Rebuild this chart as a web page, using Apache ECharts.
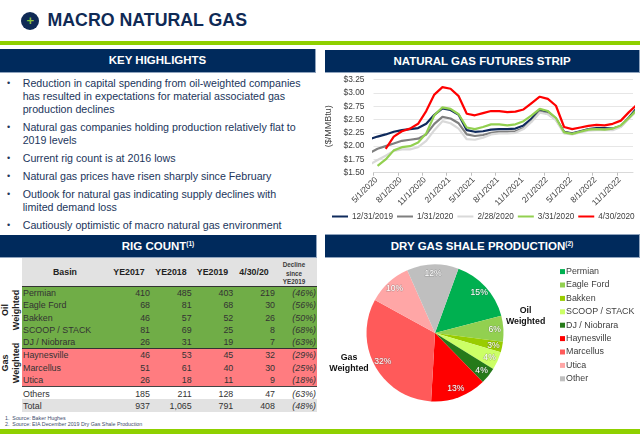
<!DOCTYPE html>
<html><head><meta charset="utf-8">
<script src="https://cdn.jsdelivr.net/npm/echarts@6/dist/echarts.min.js"></script>
<style>
html,body{margin:0;padding:0;background:#fff}
body{width:640px;height:434px;position:relative;overflow:hidden;font-family:"Liberation Sans",Arial,sans-serif;color:#1b2f55}
.abs{position:absolute;white-space:nowrap}
.hdr{position:absolute;background:#002a5c;color:#fff;font-weight:bold;font-size:11.5px;text-align:center;box-sizing:border-box;border-right:1px solid #8fa3bd;border-bottom:1px solid #8fa3bd}
.hdr sup{font-size:6.5px;line-height:0;vertical-align:4px}
.b{position:absolute;left:22.7px;font-size:10.66px;line-height:13px;white-space:nowrap;color:#22365c}
.d{position:absolute;left:7px;font-size:9px;line-height:13px;color:#22365c}
.c{position:absolute;top:0;font-size:8.9px;line-height:12.3px;color:#333;white-space:nowrap}
.side{position:absolute;font-weight:bold;font-size:9px;line-height:11px;color:#222;text-align:center;transform:translate(-50%,-50%) rotate(-90deg);white-space:nowrap}
.w{position:absolute;font-weight:bold;font-size:8.8px;line-height:11px;color:#111;text-align:center;transform:translate(-50%,-50%);white-space:nowrap}
</style></head><body>
<div class="abs" style="left:21.3px;top:11.7px;width:18px;height:18px;border-radius:9px;background:#0f2a55"></div>
<div class="abs" style="left:21.3px;top:11.7px;width:18px;line-height:18px;text-align:center;color:#8cc63f;font-size:13px;font-weight:bold">+</div>
<div class="abs" style="left:47.5px;top:9px;font-size:17.75px;line-height:23px;font-weight:bold;color:#0f2a55">MACRO NATURAL GAS</div>
<div class="abs" style="left:0;top:41px;width:640px;height:4px;background:#8fd000"></div>
<div class="hdr" style="left:0;top:49px;width:316px;height:24px;line-height:23px">KEY HIGHLIGHTS</div>
<div class="hdr" style="left:325px;top:50px;width:315px;height:23px;line-height:22px">NATURAL GAS FUTURES STRIP</div>
<div class="hdr" style="left:0;top:235px;width:317px;height:23px;line-height:22px">RIG COUNT<sup>(1)</sup></div>
<div class="hdr" style="left:325px;top:235px;width:315px;height:23px;line-height:22px">DRY GAS SHALE PRODUCTION<sup>(2)</sup></div>
<div class="abs" style="left:325px;top:234px;width:315px;height:1px;background:#8fa3bd"></div>
<div id="bullets"></div>
<div id="table"></div>
<div class="side" style="left:11px;top:310px;">Oil<br>Weighted</div>
<div class="side" style="left:11px;top:363px;">Gas<br>Weighted</div>
<div class="abs" style="left:5px;top:415px;font-size:5.3px;line-height:6px;color:#3c4c6c">1.&nbsp; Source: Baker Hughes<br>2.&nbsp; Source: EIA December 2019 Dry Gas Shale Production</div>
<div class="abs" style="left:0;top:429px;width:640px;height:5px;background:#8fd000"></div>
<div id="lineChart" class="abs" style="left:325px;top:73px;width:315px;height:160px"></div>
<div id="pieChart" class="abs" style="left:325px;top:258px;width:315px;height:170px"></div>
<div class="w" style="left:525.6px;top:316px">Oil<br>Weighted</div>
<div class="w" style="left:349px;top:363px">Gas<br>Weighted</div>
<script>
// ---- Data ----
const bulletLines = [
 [76.5,"Reduction in capital spending from oil-weighted companies<br>has resulted in expectations for material associated gas<br>production declines"],
 [120.5,"Natural gas companies holding production relatively flat to<br>2019 levels"],
 [151.5,"Current rig count is at 2016 lows"],
 [169.5,"Natural gas prices have risen sharply since February"],
 [188,"Outlook for natural gas indicating supply declines with<br>limited demand loss"],
 [219,"Cautiously optimistic of macro natural gas environment"]
];
const basins = ["Permian","Eagle Ford","Bakken","SCOOP / STACK","DJ / Niobrara","Haynesville","Marcellus","Utica","Others","Total"];
const ye2017 = ["410","68","46","81","26","46","51","26","185","937"];
const ye2018 = ["485","81","57","69","31","53","61","18","211","1,065"];
const ye2019 = ["403","68","52","25","19","45","40","11","128","791"];
const apr2020 = ["219","30","26","8","7","32","30","9","47","408"];
const decline = ["(46%)","(56%)","(50%)","(68%)","(63%)","(29%)","(25%)","(18%)","(63%)","(48%)"];

const tickLabels = ["5/1/2020","8/1/2020","11/1/2020","2/1/2021","5/1/2021","8/1/2021","11/1/2021","2/1/2022","5/1/2022","8/1/2022","11/1/2022"];
// contract months Apr 2020 .. Jan 2023 (each contract sits mid-way through its month slot)
const strip20191231 = [2.13,2.18,2.22,2.27,2.30,2.32,2.34,2.42,2.59,2.71,2.68,2.59,2.30,2.27,2.28,2.31,2.32,2.32,2.33,2.39,2.52,2.68,2.65,2.52,2.27,2.24,2.28,2.32,2.34,2.34,2.33,2.38,2.54,2.72];
const strip20200131 = [1.87,1.95,2.00,2.05,2.10,2.12,2.14,2.22,2.42,2.55,2.52,2.43,2.22,2.19,2.21,2.25,2.27,2.27,2.28,2.34,2.47,2.65,2.61,2.50,2.26,2.23,2.27,2.31,2.32,2.32,2.32,2.37,2.53,2.68];
const strip20200228 = [1.65,1.74,1.82,1.91,1.94,1.94,1.98,2.10,2.30,2.47,2.43,2.33,2.13,2.12,2.16,2.22,2.24,2.24,2.25,2.32,2.46,2.63,2.60,2.49,2.24,2.22,2.26,2.29,2.30,2.30,2.30,2.36,2.52,2.67];
const strip20200331 = [null,1.63,1.75,1.92,1.98,2.00,2.07,2.24,2.58,2.73,2.70,2.60,2.35,2.32,2.36,2.41,2.41,2.39,2.41,2.47,2.58,2.70,2.66,2.53,2.26,2.23,2.27,2.31,2.32,2.31,2.33,2.39,2.53,2.69];
const strip20200430 = [null,null,1.95,2.18,2.28,2.33,2.42,2.66,2.97,3.11,3.08,2.94,2.61,2.58,2.62,2.66,2.66,2.64,2.65,2.69,2.81,2.93,2.89,2.76,2.36,2.32,2.35,2.38,2.40,2.39,2.42,2.48,2.64,2.78];
const stripNames = ["12/31/2019","1/31/2020","2/28/2020","3/31/2020","4/30/2020"];
const stripColors = ["#0f2a5c","#7f7f7f","#d9d9d9","#92d050","#ff0000"];

const pieNames = ["Permian","Eagle Ford","Bakken","SCOOP / STACK","DJ / Niobrara","Haynesville","Marcellus","Utica","Other"];
const pieValues = [15.4,6.1,2.5,4.3,3.9,13.2,32.1,10.4,12.2];
const pieColors = ["#00b050","#92d050","#99cc00","#ccff66","#267a1a","#ff0000","#ff5a5a","#ffa6a6","#bfbfbf"];

// ---- HTML text ----
document.getElementById('bullets').innerHTML = bulletLines.map(([t,s])=>
 `<div class="d" style="top:${t}px">&bull;</div><div class="b" style="top:${t}px">${s}</div>`).join('');

const rowTops = [287,299.4,311.5,323.8,336,349,361.5,373.7,387.7,399.7];
const colRight = [150,191.7,233.3,275,316];
let h = `<div class="abs" style="left:22px;top:258px;width:295px;height:28px;background:#e2e2e2"></div>
<div class="abs" style="left:22px;top:286px;width:295px;height:62.5px;background:#70ad47"></div>
<div class="abs" style="left:22px;top:349px;width:295px;height:37px;background:#ff7c80"></div>
<div class="abs" style="left:22px;top:399px;width:295px;height:12.5px;background:#e2e2e2"></div>
<div class="abs" style="left:22px;top:285.5px;width:295px;height:1px;background:#333"></div>
<div class="abs" style="left:22px;top:348px;width:295px;height:1px;background:#333"></div>
<div class="abs" style="left:22px;top:386px;width:295px;height:1px;background:#444"></div>`;
[["Basin",65],["YE2017",129],["YE2018",171],["YE2019",212.5],["4/30/20",254]].forEach(([t,x])=>{
 h += `<div class="abs" style="left:${x}px;top:266px;transform:translateX(-50%);font-weight:bold;font-size:8.8px;line-height:12px;color:#222">${t}</div>`;
});
h += `<div class="abs" style="left:294px;top:261px;transform:translateX(-50%);text-align:center;font-weight:bold;font-size:6.3px;line-height:8.7px;color:#3b3b3b">Decline<br>since<br>YE2019</div>`;
basins.forEach((b,i)=>{
 const vals=[ye2017[i],ye2018[i],ye2019[i],apr2020[i],decline[i]];
 h += `<div class="c" style="left:23px;top:${rowTops[i]}px">${b}</div>`;
 vals.forEach((v,j)=>{
  h += `<div class="c" style="right:${640-colRight[j]}px;top:${rowTops[i]}px;${j==4?'font-style:italic':''}">${v}</div>`;
 });
});
document.getElementById('table').innerHTML = h;

// ---- Futures strip line chart ----
const lineChart = echarts.init(document.getElementById('lineChart'));
const strips = [strip20191231,strip20200131,strip20200228,strip20200331,strip20200430];
lineChart.setOption({
 animation:false,
 textStyle:{fontFamily:'"Liberation Sans",Arial,sans-serif'},
 legend:{left:7,top:139.5,width:310,itemWidth:16,itemHeight:2,itemGap:4,icon:'rect',padding:0,
  textStyle:{fontSize:8.2,color:'#404040',padding:[0,0,0,-1]},data:stripNames},
 grid:{left:48.5,right:7,top:6.7,height:93,outerBoundsMode:'none'},
 xAxis:{type:'value',min:0,max:32,interval:3,
  axisLine:{lineStyle:{color:'#d9d9d9'}},axisTick:{show:true,length:3,lineStyle:{color:'#bfbfbf'}},splitLine:{show:false},
  axisLabel:{rotate:45,fontSize:8.4,color:'#404040',margin:3,align:'right',verticalAlign:'top',showMaxLabel:false,
   formatter:v=>tickLabels[v/3]||''}},
 yAxis:{type:'value',min:1.5,max:3.25,interval:0.25,
  name:'($/MMBtu)',nameLocation:'middle',nameGap:28,nameTextStyle:{fontSize:9,color:'#404040'},
  axisLine:{show:false},axisTick:{show:false},
  splitLine:{lineStyle:{color:'#e6e6e6',width:1}},
  axisLabel:{fontSize:8.4,color:'#404040',margin:9,formatter:v=>'$'+v.toFixed(2)}},
 series:strips.map((s,k)=>({
  name:stripNames[k],type:'line',showSymbol:false,symbol:'none',clip:true,
  lineStyle:{width:2.2,color:stripColors[k]},itemStyle:{color:stripColors[k]},
  data:s.map((v,i)=>[i-0.5,v]).filter(p=>p[1]!==null)
 }))
});

// ---- Shale production pie ----
const pieChart = echarts.init(document.getElementById('pieChart'));
const pieData = pieNames.map((n,i)=>({name:n,value:pieValues[i],itemStyle:{color:pieColors[i]}}));
pieChart.setOption({
 animation:false,
 textStyle:{fontFamily:'"Liberation Sans",Arial,sans-serif'},
 legend:{orient:'vertical',left:235,top:9,itemWidth:5,itemHeight:5,itemGap:4.2,icon:'rect',padding:0,
  textStyle:{fontSize:8.9,color:'#404040',padding:[0,0,0,-4],lineHeight:9.2},data:pieNames},
 series:[
  {type:'pie',center:[110,75],radius:[0,68.5],startAngle:70,clockwise:true,
   label:{show:false},labelLine:{show:false},silent:true,data:pieData},
  {type:'pie',center:[110,75],radius:[45,68.5],startAngle:70,clockwise:true,silent:true,legendHoverLink:false,
   itemStyle:{color:'rgba(0,0,0,0)'},labelLine:{show:false},
   label:{show:true,position:'inside',fontSize:8.6,color:'#fff',textBorderColor:'rgba(90,90,90,0.35)',textBorderWidth:1,
    formatter:p=>Math.round(p.value)+'%'},
   data:pieNames.map((n,i)=>({name:n,value:pieValues[i],itemStyle:{color:'rgba(0,0,0,0)'}}))}
 ]
});
</script>
</body></html>
